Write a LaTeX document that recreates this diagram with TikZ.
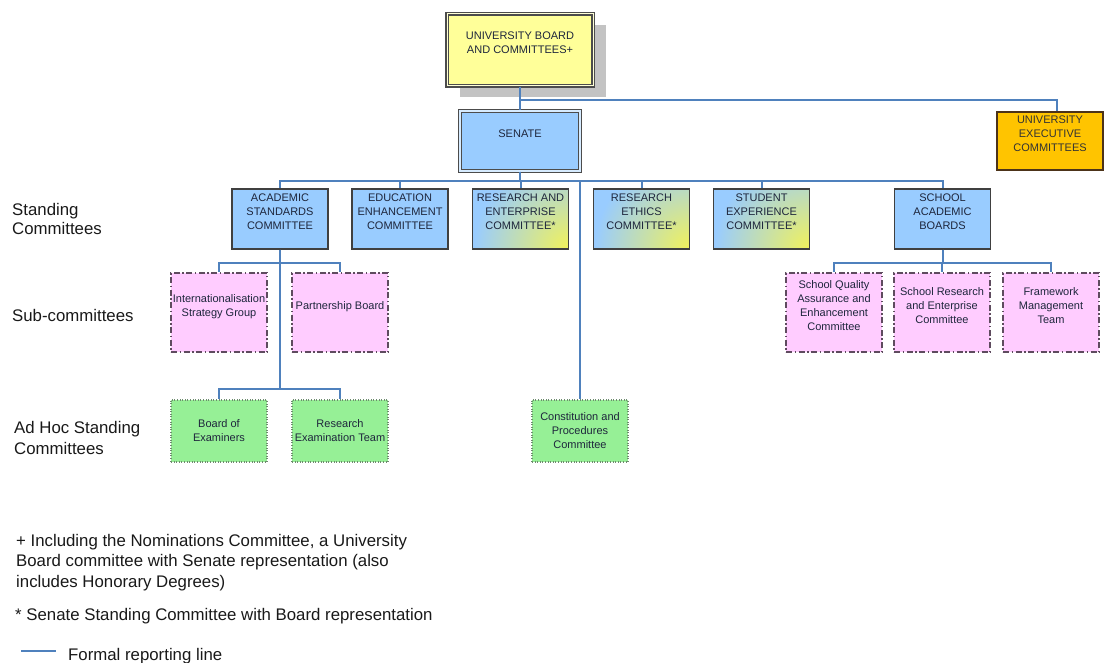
\documentclass[tikz,border=0pt]{standalone}
\usepackage{fontspec}
\setmainfont{Liberation Sans}
\usetikzlibrary{positioning, shadows}

\definecolor{linkblue}{RGB}{79,129,189}
\definecolor{standblue}{RGB}{153,204,255}
\definecolor{mixyellow}{RGB}{242,242,90}
\definecolor{boardyellow}{RGB}{255,255,153}
\definecolor{execgold}{RGB}{255,196,0}
\definecolor{subpink}{RGB}{255,204,255}
\definecolor{pinkedge}{RGB}{95,75,95}
\definecolor{adhocgreen}{RGB}{150,240,150}
\definecolor{greenedge}{RGB}{110,140,110}
\definecolor{boxtext}{RGB}{30,38,60}
\definecolor{shadegray}{RGB}{195,195,195}
\newcommand{\topline}{\\\mbox{}}
\pgfdeclareradialshading{cornerglow}{\pgfpoint{0bp}{0bp}}{%
  color(0bp)=(mixyellow); color(19bp)=(standblue); color(50bp)=(standblue)}

\begin{document}
\begin{tikzpicture}[
            x=1pt, y=-1pt,
            node distance=120pt,
            every node/.style={align=center, inner sep=1pt, text=boxtext,
                font=\fontsize{11}{14}\selectfont},
            standbox/.style={rectangle, draw=black!75, line width=1.2pt,
                fill=standblue, minimum width=96pt, minimum height=60pt},
            mixbox/.style={standbox, path picture={
                \shade[shading=cornerglow]
                    (path picture bounding box.south east) circle (125pt);}},
            boardbox/.style={rectangle, draw=black!70, line width=1.5pt,
                double=boardyellow!40!white, double distance=1pt,
                fill=boardyellow, minimum width=146pt, minimum height=72pt,
                drop shadow={shadow xshift=13pt, shadow yshift=-11pt,
                    fill=shadegray, opacity=1}},
            senatebox/.style={rectangle, draw=black!70, line width=1.7pt,
                double=standblue!40!white, double distance=1.1pt,
                fill=standblue, minimum width=120pt, minimum height=60pt},
            execbox/.style={rectangle, draw=black!60!brown, line width=1.4pt,
                fill=execgold, text=black!80, minimum width=106pt, minimum height=58pt},
            subbox/.style={rectangle, draw=pinkedge, line width=1.4pt,
                dash pattern=on 6pt off 2.5pt on 1.5pt off 2.5pt,
                fill=subpink, minimum width=96pt, minimum height=79pt},
            adhocbox/.style={rectangle, draw=greenedge, line width=1.1pt,
                dash pattern=on 1pt off 1.6pt,
                fill=adhocgreen, minimum width=96pt, minimum height=62pt},
            sidelabel/.style={anchor=north west, align=left, inner sep=0pt,
                text=black!90, font=\fontsize{16.8}{19}\selectfont},
            note/.style={anchor=north west, align=left, inner sep=0pt,
                text=black!90, font=\fontsize{16.8}{20.7}\selectfont},
            link/.style={draw=linkblue, line width=2pt}
        ]
            \useasboundingbox (0,0) rectangle (1105,663);

            % top of the tree
            \node [boardbox] (board) at (520,50) {UNIVERSITY BOARD\\AND COMMITTEES+\topline};
            \node [senatebox, below of=board, node distance=91pt] (senate) {SENATE\topline};
            \node [execbox, right of=senate, node distance=530pt] (exec) {UNIVERSITY\\EXECUTIVE\\COMMITTEES\topline};

            % standing committees
            \node [standbox] (asc) at (280,219) {ACADEMIC\\STANDARDS\\COMMITTEE\topline};
            \node [standbox, right of=asc] (eec) {EDUCATION\\ENHANCEMENT\\COMMITTEE\topline};
            \node [mixbox, right of=eec, node distance=120.5pt] (rec) {RESEARCH AND\\ENTERPRISE\\COMMITTEE*\topline};
            \node [mixbox, right of=rec, node distance=121pt] (rce) {RESEARCH\\ETHICS\\COMMITTEE*\topline};
            \node [mixbox, right of=rce] (sec) {STUDENT\\EXPERIENCE\\COMMITTEE*\topline};
            \node [standbox, right of=sec, node distance=181pt] (sab) {SCHOOL\\ACADEMIC\\BOARDS\topline};

            % sub-committees
            \node [subbox] (isg) at (219,312.5) {Internationalisation\\Strategy Group\topline};
            \node [subbox, right of=isg, node distance=121pt] (pb) {Partnership Board\topline};
            \node [subbox] (sqa) at (834,312.5) {School Quality\\Assurance and\\Enhancement\\Committee\topline};
            \node [subbox, right of=sqa, node distance=108pt] (sre) {School Research\\and Enterprise\\Committee\topline};
            \node [subbox, right of=sre, node distance=109pt] (fmt) {Framework\\Management\\Team\topline};

            % ad hoc standing committees
            \node [adhocbox, below of=isg, node distance=118.5pt] (boe) {Board of\\Examiners};
            \node [adhocbox, right of=boe, node distance=121pt] (ret) {Research\\Examination Team};
            \node [adhocbox, right of=ret, node distance=240pt] (cpc) {Constitution and\\Procedures\\Committee};

            % row labels and notes
            \node [sidelabel] (lblstand) at (12,203.3) {Standing\\Committees};
            \node [sidelabel] (lblsub) at (12,309.3) {Sub-committees};
            \node [sidelabel, font=\fontsize{16.8}{21}\selectfont] (lbladhoc) at (14,420.8) {Ad Hoc Standing\\Committees};
            \node [note] (noteplus) at (16,533.8) {+ Including the Nominations Committee, a University\\Board committee with Senate representation (also\\includes Honorary Degrees)};
            \node [note] (notestar) at (15,608.5) {* Senate Standing Committee with Board representation};
            \coordinate (legstart) at (21,651);
            \coordinate (legend) at (56,651);
            \node [note, anchor=base west] (legtext) at (68,660) {Formal reporting line};

            % reporting lines
            \path [link] (board.south) -- (senate.north);
            \path [link] (board.south) -- ++(0,13) -| ([xshift=7pt]exec.north);
            \foreach \c in {asc,eec,rec,rce,sec,sab,cpc}
                \path [link] (senate.south) -- ++(0,9) -| (\c.north);
            \foreach \c in {isg,pb}
                \path [link] (asc.south) -- ++(0,13) -| (\c.north);
            \foreach \c in {boe,ret}
                \path [link] (asc.south) -- ++(0,139) -| (\c.north);
            \foreach \c in {sqa,sre,fmt}
                \path [link] (sab.south) -- ++(0,13) -| (\c.north);
            \path [link] (legstart) -- (legend);
        \end{tikzpicture}
\end{document}
